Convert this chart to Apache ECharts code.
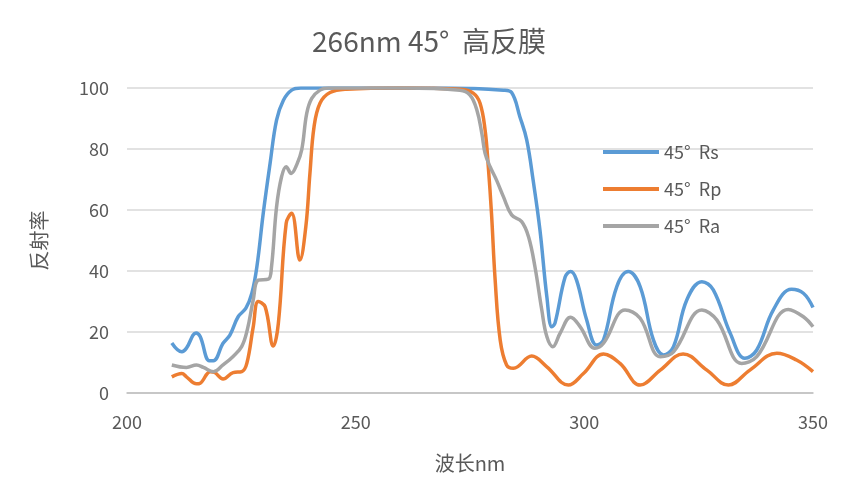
<!DOCTYPE html><html><head><meta charset="utf-8"><script src="https://cdn.jsdelivr.net/npm/echarts@6/dist/echarts.min.js"></script></head><body style="margin:0"><div id="c" style="width:858px;height:494px"></div><script>
const xTicks=[200,250,300,350];
const rs=[[209.8,16.4],[212,13.5],[213,14.7],[215.1,19.7],[216,18.5],[218,10.6],[218.9,10.6],[221,16.3],[222.5,19],[224.3,25],[226,27.8],[227.3,32.7],[228.4,41.4],[229.8,59],[231.3,75.4],[232.7,89.5],[234.2,96],[236,99.3],[238,100],[250,100],[270,100],[282.3,99.3],[284.1,98.5],[285.9,90.6],[287.4,83],[288.8,69.8],[290.3,53.4],[291.8,31.6],[292.9,21.7],[293.6,23],[295.8,38],[297,39.8],[298.3,37],[300.5,24],[302.7,15.7],[304.2,17.4],[307.1,34.9],[309.6,39.8],[312.2,34.9],[315.1,17.4],[317.3,12.5],[319.5,15.2],[322.4,30.5],[325.7,36.5],[328.2,33.8],[331.9,19.6],[335.1,11.4],[337.7,14.1],[341.3,27.2],[345.3,34],[347.9,32.7],[350,28]];
const rp=[[209.8,5.3],[212,6.4],[213,5.3],[215.2,3],[216,3.2],[218.2,7],[219.2,6.7],[221,4.6],[223.2,6.7],[225.1,7],[226.2,9.7],[227.6,21.7],[228.7,30],[230.2,28.3],[232,15.4],[233.1,22.9],[234.8,55.6],[236,58.9],[237.8,43.6],[239.1,54.5],[240,72],[240.9,87.3],[242.2,95],[244.4,98.5],[248,99.6],[260,100],[273,99.6],[275.7,98.3],[277.2,95],[278.3,86.2],[279,74.2],[279.7,58.9],[280.5,37],[281.6,17.4],[283,9.2],[284.5,8.1],[288.5,12.1],[291.8,8.6],[296.5,2.6],[299.8,6.4],[304.2,12.8],[307.8,9.7],[312.2,2.6],[316.6,7.5],[321.6,12.8],[326.8,7.5],[331.5,2.6],[336.2,7.5],[342.1,13],[346.4,10.8],[350,7]];
const ra=[[209.8,9.2],[213,8.4],[215.2,9.2],[216.7,8.4],[218.9,7],[221,9.2],[223.2,12],[225.1,15.3],[226.3,20.7],[227.6,30.5],[228.7,37],[230.9,37.3],[231.6,41.4],[232.7,61],[233.8,70.9],[234.8,74.2],[235.9,72],[237.1,74.8],[238.2,79.7],[239.3,91.7],[240.4,96.6],[242.2,99.3],[244,100],[260,100],[272.8,99.3],[275,97.7],[276.5,92.8],[277.6,85],[278.3,78.6],[279.4,74.2],[280.8,69.8],[282.3,64.4],[284.1,58.4],[286.3,56.2],[287.8,51.2],[289.2,41.4],[290.7,27.2],[291.8,18.5],[293.1,15.2],[294.7,19.6],[297,24.8],[299.1,21.7],[302.3,14.7],[304.2,16.3],[308.9,27.2],[312.2,24.5],[316.6,11.9],[319.5,13.5],[325.7,27.2],[329,23.9],[334.4,9.7],[337.7,11.9],[344.6,27.4],[347.9,25],[350,21.7]];
const names=['45°  Rs','45°  Rp','45°  Ra'];
const colors=['#5b9bd5','#ed7d31','#a5a5a5'];
const ch=echarts.init(document.getElementById('c'));
const f='"Noto Sans CJK SC","Noto Sans",sans-serif';
ch.setOption({
 animation:false,
 textStyle:{fontFamily:f},
 title:{text:'266nm 45°  高反膜',left:'center',top:22,textStyle:{fontSize:28,fontWeight:'normal',color:'#595959',fontFamily:f}},
 grid:{left:127,right:45,top:88,bottom:101},
 legend:{orient:'vertical',left:598,top:138,itemWidth:56,itemHeight:4,itemGap:19,icon:'rect',textStyle:{fontSize:18,color:'#595959'},data:names},
 xAxis:{type:'value',min:200,max:350,interval:50,name:'波长nm',nameLocation:'middle',nameGap:60,nameTextStyle:{fontSize:20,color:'#595959'},
  axisLine:{lineStyle:{color:'#bfbfbf',width:1.5}},axisTick:{show:false},splitLine:{show:false},axisLabel:{fontSize:18,color:'#595959',margin:20}},
 yAxis:{type:'value',min:0,max:100,interval:20,name:'反射率',nameLocation:'middle',nameGap:78,nameTextStyle:{fontSize:20,color:'#595959'},
  axisLine:{show:false},axisTick:{show:false},splitLine:{lineStyle:{color:'#d9d9d9',width:1.5}},axisLabel:{fontSize:18,color:'#595959',margin:18}},
 series:[rs,rp,ra].map((d,i)=>({name:names[i],type:'line',data:d,smooth:0.4,showSymbol:false,lineStyle:{width:3.5,color:colors[i]},itemStyle:{color:colors[i]}}))
});
</script></body></html>
